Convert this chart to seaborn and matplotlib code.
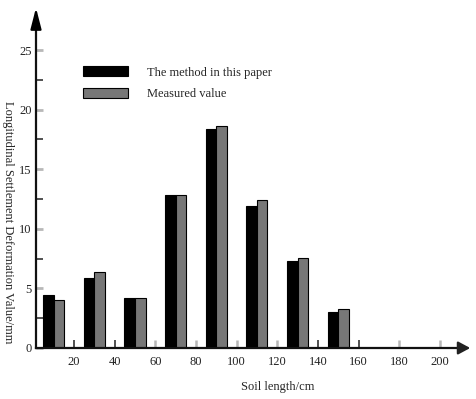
import pandas as pd
import numpy as np
import matplotlib
matplotlib.use("Agg")
import matplotlib.pyplot as plt
import seaborn as sns

# data
soil_length = [10, 30, 50, 70, 90, 110, 130, 150]
method_values = [4.45, 5.85, 4.2, 12.85, 18.4, 11.9, 7.3, 3.05]
measured_values = [4.0, 6.35, 4.2, 12.85, 18.6, 12.45, 7.52, 3.25]
series_names = ["The method in this paper", "Measured value"]
x_ticks = [20, 40, 60, 80, 100, 120, 140, 160, 180, 200]
y_ticks = [0, 5, 10, 15, 20, 25]

df = pd.DataFrame({
    "Soil length": soil_length * 2,
    "Value": method_values + measured_values,
    "Series": [series_names[0]] * len(soil_length) + [series_names[1]] * len(soil_length),
})

sns.set_style("white")
plt.rcParams["font.family"] = ["Liberation Serif", "DejaVu Serif"]
plt.rcParams["font.size"] = 9

W, H = 477, 399
fig = plt.figure(figsize=(W / 100, H / 100), dpi=100)
left, right, bottom, top = 36, 462, 348, 22
ax = fig.add_axes([left / W, 1 - bottom / H, (right - left) / W, (bottom - top) / H])

sns.barplot(data=df, x="Soil length", y="Value", hue="Series", native_scale=True,
            palette=["black", "#777777"], width=0.52, edgecolor="black",
            linewidth=0.8, ax=ax, legend=True)

ax.set_xlim(1.3, 210.9)
ax.set_ylim(0, 27.35)

for s in ["top", "right"]:
    ax.spines[s].set_visible(False)
for s in ["left", "bottom"]:
    ax.spines[s].set_linewidth(1.6)
    ax.spines[s].set_color("#111111")

# x ticks: some drawn dark, some light grey in the reference -> major/minor split
dark = [v for v in x_ticks if v in (20, 40, 140, 160)]
light = [v for v in x_ticks if v not in dark]
ax.set_xticks(dark, labels=[str(v) for v in dark])
ax.set_xticks(light, labels=[str(v) for v in light], minor=True)
ax.tick_params(axis="x", which="both", bottom=True, direction="in", length=6, pad=6,
               labelsize=9, labelcolor="#222222")
ax.tick_params(axis="x", which="major", width=1.1, color="#222222")
ax.tick_params(axis="x", which="minor", width=1.8, color="#b8b8b8")

ax.set_yticks(y_ticks)
ax.set_yticks(np.arange(2.5, 27.5, 5), minor=True)
ax.tick_params(axis="y", which="major", left=True, direction="in", length=5, width=2,
               pad=3, color="#b8b8b8", labelcolor="#222222")
ax.tick_params(axis="y", which="minor", left=True, direction="in", length=5, width=1.1,
               color="#222222")

ax.set_xlabel("")
ax.set_ylabel("")
fig.text(8 / W, 1 - 222 / H, "Longitudinal Settlement Deformation Value/mm",
         rotation=270, ha="center", va="center", fontsize=9)
fig.text(278 / W, 1 - 387 / H, "Soil length/cm", ha="center", va="center", fontsize=9)

# arrow heads on the axes
ax.annotate("", xy=(left / W, 1 - 5 / H), xytext=(left / W, 1 - 24 / H),
            xycoords="figure fraction",
            arrowprops=dict(arrowstyle="-|>,head_length=1.4,head_width=0.36",
                            color="black", lw=1.6))
ax.annotate("", xy=(473 / W, 1 - bottom / H), xytext=(458 / W, 1 - bottom / H),
            xycoords="figure fraction",
            arrowprops=dict(arrowstyle="-|>,head_length=0.8,head_width=0.43",
                            color="#222222", lw=1.6))

handles, labels = ax.get_legend_handles_labels()
ax.legend(handles, labels, loc="upper left", bbox_to_anchor=(72 / W, 1 - 55 / H),
          bbox_transform=fig.transFigure, frameon=False, handlelength=3.6,
          handleheight=0.85, handletextpad=1.5, labelspacing=0.75, fontsize=9)

fig.savefig("out.png", dpi=100)
